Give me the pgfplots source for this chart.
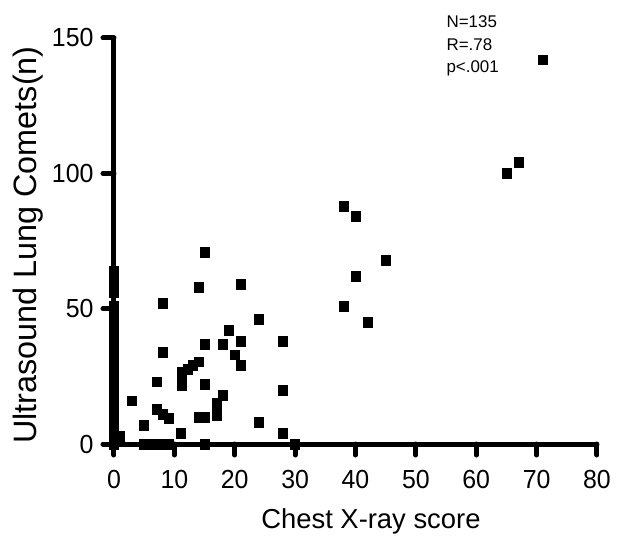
\documentclass[border=0pt]{standalone}
\usepackage{fontspec}
\setmainfont{Liberation Sans}
\usepackage{pgfplots}
\pgfplotsset{compat=1.18}

\begin{document}
\begin{tikzpicture}
\useasboundingbox (-114bp,-95bp) rectangle (503bp,444bp);
\begin{axis}[
  at={(0,0)}, anchor=south west,
  scale only axis, width=483bp, height=406bp,
  xmin=0, xmax=80, ymin=0, ymax=150,
  axis lines=left,
  axis line style={-, line width=5bp, line cap=round},
  tick align=outside, major tick length=11bp,
  tick style={line width=5bp, black, line cap=round},
  xtick={0,10,...,80}, ytick={0,50,100,150},
  tick label style={font=\fontsize{25}{25}\selectfont, yscale=1.05},
  xticklabel shift=12bp, yticklabel shift=6bp,
  /pgf/number format/assume math mode=true,
  clip=false,
]
% CXR score vs. number of B-lines (comets)
\addplot[only marks, mark=square*, mark size=4.5bp, mark options={fill=black, draw=black, yscale=1.1}] coordinates {
  (0,64) (0,60) (0,56) (0,51) (0,47) (0,43) (0,40) (0,37) (0,34) (0,30)
  (0,27) (0,24) (0,20) (0,16) (0,13) (0,10) (0,7) (0,5) (0,3) (0,0)
  (1,3) (1,1)
  (3,16) (5,7)
  (5,0) (6,0) (7,0) (8,0) (9,0) (15,0) (30,0)
  (7,23) (7,13) (8,11) (9,9.5)
  (8,52) (8,34)
  (11,4)
  (11.2,21.8) (11.2,24.2) (11.2,26.7) (12.2,27.5) (13.1,29.2) (14.1,30.4)
  (14,10) (15,10) (15,22) (15,37) (15,71) (14,58)
  (17,10.7) (17,12.5) (17,15) (18,18)
  (18,37) (19,42) (20,33) (21,29) (21,38) (21,59)
  (24,46) (24,8)
  (28,38) (28,20) (28,4)
  (38,88) (38,51) (40,84) (40,62) (42,45) (45,68)
  (65,100) (67,104) (71,142)
};
\node[anchor=base west, font=\fontsize{17}{17}\selectfont] at (axis cs:54.5,153.9) {N=135};
\node[anchor=base west, font=\fontsize{17}{17}\selectfont] at (axis cs:54.5,145.4) {R=.78};
\node[anchor=base west, font=\fontsize{17}{17}\selectfont] at (axis cs:54.5,137.3) {p<.001};
\node[anchor=base, font=\fontsize{27.5}{30}\selectfont, yshift=-84bp] at (axis description cs:0.532,0) {Chest X-ray score};
\node[anchor=base, xshift=-77bp, rotate=90, font=\fontsize{32.5}{34}\selectfont] at (axis description cs:0,0.49) {Ultrasound Lung Comets(n)};
\end{axis}
\end{tikzpicture}
\end{document}
